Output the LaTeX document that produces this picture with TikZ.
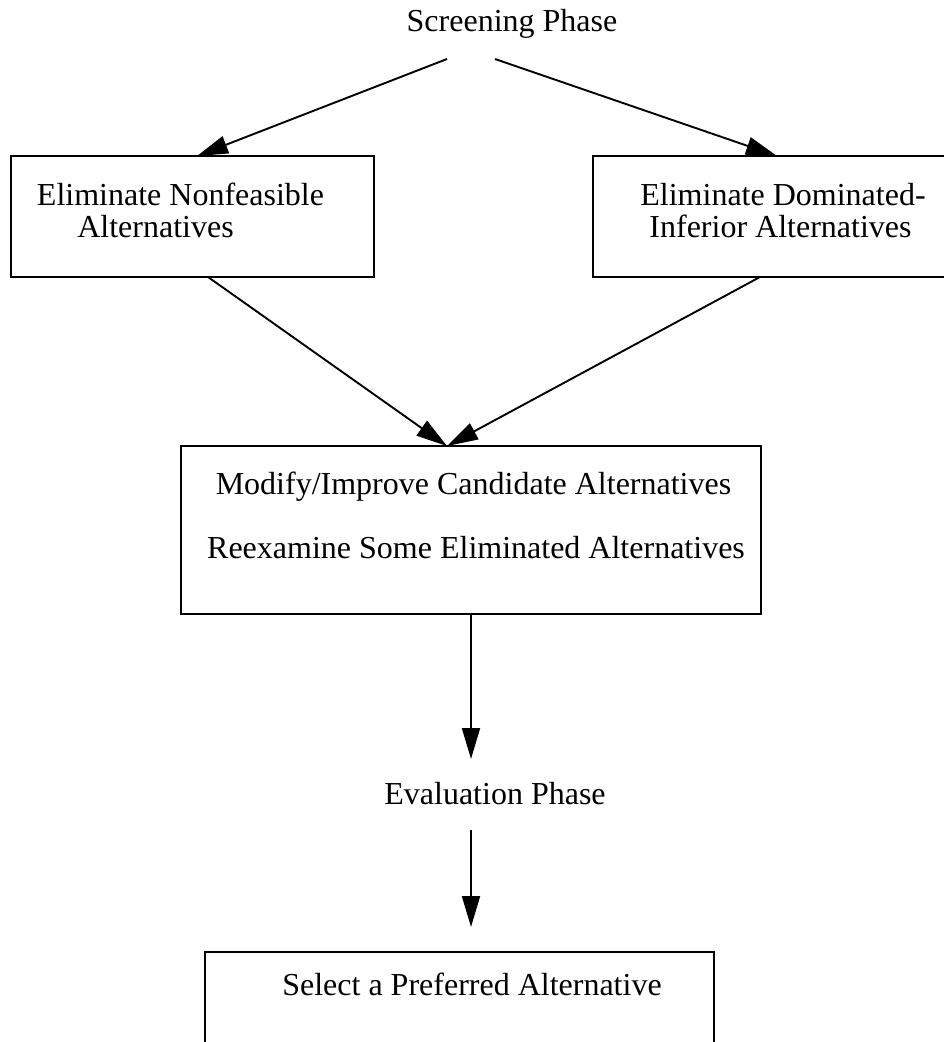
\documentclass[tikz,border=0pt]{standalone}
\usepackage{fontspec}
\setmainfont{Liberation Serif}
\usetikzlibrary{arrows.meta}
\begin{document}
\begin{tikzpicture}[x=1pt,y=-1pt,
  box/.style={draw, line width=2pt, inner sep=0pt, rectangle},
  lbl/.style={font=\fontsize{32}{36}\selectfont, inner sep=0pt, anchor=base},
  conn/.style={line width=1.9pt, -{Triangle[length=31pt,width=18pt]}}]
\useasboundingbox (0,0) rectangle (944,1042);
\clip (0,0) rectangle (944,1042);
% boxes
\node[box, minimum width=363pt, minimum height=121pt] (lbox) at (192.5,216.5) {};
\node[box, minimum width=360pt, minimum height=121pt] (rbox) at (773,216.5) {};
\node[box, minimum width=580pt, minimum height=168pt] (mbox) at (471,530) {};
\node[box, minimum width=509pt, minimum height=160pt] (bbox) at (459.5,1032) {};
% texts
\node[lbl] (screen) at (512,31) {Screening Phase};
\node[lbl] (l1) at (180.5,205) {Eliminate Nonfeasible};
\node[lbl] (l2) at (155.5,237) {Alternatives};
\node[lbl] (r1) at (783,205) {Eliminate Dominated-};
\node[lbl] (r2) at (780.5,237) {Inferior Alternatives};
\node[lbl] (m1) at (473.5,494) {Modify/Improve Candidate Alternatives};
\node[lbl] (m2) at (476,558) {Reexamine Some Eliminated Alternatives};
\node[lbl] (eval) at (495,804) {Evaluation Phase};
\node[lbl] (sel) at (472,995) {Select a Preferred Alternative};
% connector end points
\coordinate (sL) at (447,59);
\coordinate (sR) at (495,59);
\coordinate (lIn) at (197,156);
\coordinate (rIn) at (777,156);
\coordinate (lOut) at (208,277);
\coordinate (rOut) at (760,277);
\coordinate (mIn) at (447,446);
\coordinate (mOut) at (471,614);
\coordinate (eIn) at (471,759);
\coordinate (eOut) at (471,830);
\coordinate (bIn) at (471,927);
% connectors
\draw[conn] (sL) -- (lIn);
\draw[conn] (sR) -- (rIn);
\draw[conn] (lOut) -- (mIn);
\draw[conn] (rOut) -- (mIn);
\draw[conn] (mOut) -- (eIn);
\draw[conn] (eOut) -- (bIn);
\end{tikzpicture}
\end{document}
